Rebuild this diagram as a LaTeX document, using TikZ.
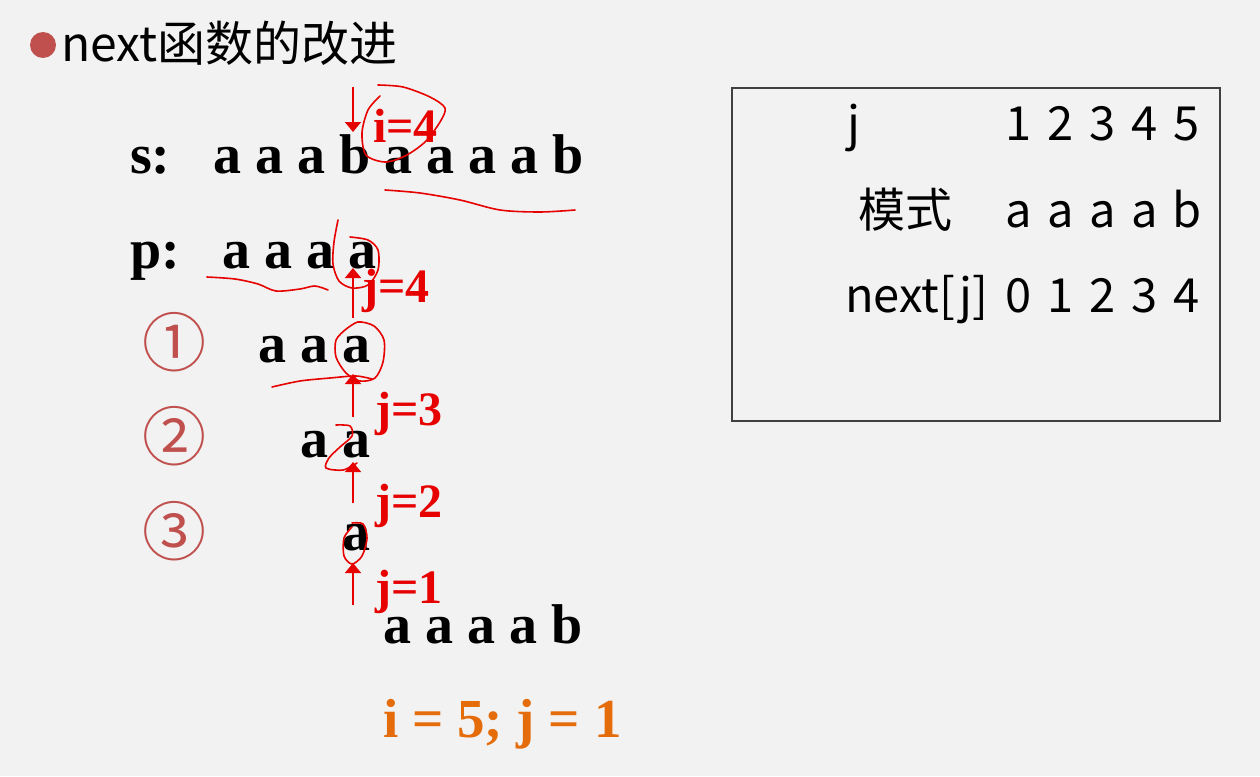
\documentclass[tikz,border=0pt]{standalone}
\usepackage{fontspec}
\setmainfont{Liberation Serif}
\newfontfamily\cjkfont{Noto Sans CJK SC}
\usepackage{xcolor}
\usetikzlibrary{arrows.meta,positioning}

\definecolor{bggray}{HTML}{F2F2F2}
\definecolor{inkred}{HTML}{E60000}
\definecolor{numred}{HTML}{C0504D}
\definecolor{resorange}{HTML}{E46C0A}

\begin{document}
\begin{tikzpicture}[x=1pt, y=-1pt,
    letters/.style={anchor=base west, inner sep=0pt, font=\fontsize{56}{60}\selectfont\bfseries},
    redlabel/.style={anchor=base west, inner sep=0pt, text=inkred, font=\fontsize{48}{50}\selectfont\bfseries},
    circnum/.style={anchor=center, inner sep=0pt, text=numred, font=\cjkfont\fontsize{64}{64}\selectfont},
    cell/.style={anchor=base, inner sep=0pt, font=\cjkfont\fontsize{47}{50}\selectfont},
    rowlabel/.style={anchor=base west, inner sep=0pt, font=\cjkfont\fontsize{47}{50}\selectfont},
    tablebox/.style={rectangle, draw=black!75, line width=1.5pt, minimum width=488pt, minimum height=333pt, inner sep=0pt},
    pointer/.style={draw=inkred, line width=1.6pt, -{Triangle[width=16pt,length=10pt]}},
    ink/.style={draw=inkred, line width=1.6pt, line cap=round, line join=round}
]
\fill[bggray] (0,0) rectangle (1260,776);
\useasboundingbox (0,0) rectangle (1260,776);

% Title
\fill[numred] (43,45) circle (13);
\node[anchor=base west, inner sep=0pt, font=\cjkfont\fontsize{48}{50}\selectfont] (title) at (61,62) {next函数的改进};

% Main string and pattern
\node[letters] (s) at (130,173) {s:};
\node[letters] (srow) at (213,173) {a a a b a a a a b};
\node[letters] (p) at (130,268) {p:};
\node[letters] (prow) at (222,268) {a a a a};

% Steps
\node[circnum] (c1) at (174,342) {①};
\node[letters] (row1) at (258,362) {a a a};
\node[circnum] (c2) at (174,436) {②};
\node[letters] (row2) at (300,457) {a a};
\node[circnum] (c3) at (174,531) {③};
\node[letters] (row3) at (342,550) {a};
\node[letters] (shifted) at (383,643) {a a a a b};
\node[letters, text=resorange, font=\fontsize{55}{60}\selectfont\bfseries] (result) at (383,737) {i = 5; j = 1};

% Red labels
\node[redlabel] (i4) at (373,142) {i=4};
\node[redlabel] (j4) at (362,302) {j=4};
\node[redlabel] (j3) at (375,425) {j=3};
\node[redlabel] (j2) at (375,517) {j=2};
\node[redlabel] (j1) at (375,603) {j=1};

% Pointers
\coordinate (itail) at (353,87);
\coordinate (itip) at (353,132);
\coordinate (j4tail) at (353,318);
\coordinate (j4tip) at (353,268);
\coordinate (j3tail) at (353,417);
\coordinate (j3tip) at (353,374);
\coordinate (j2tail) at (353,503);
\coordinate (j2tip) at (353,462);
\coordinate (j1tail) at (353,605);
\coordinate (j1tip) at (353,563);
\draw[pointer] (itail) -- (itip);
\draw[pointer] (j4tail) -- (j4tip);
\draw[pointer] (j3tail) -- (j3tip);
\draw[pointer] (j2tail) -- (j2tip);
\draw[pointer] (j1tail) -- (j1tip);

% Handwritten marks
\draw[ink] plot[smooth] coordinates {(378,85) (403,87) (430,97) (445,108) (440,122) (425,142) (405,156) (385,162) (366,155) (362,133) (368,110) (380,96)};
\draw[ink] plot[smooth] coordinates {(385,190) (420,193) (460,200) (500,210) (540,212) (575,210)};
\draw[ink] plot[smooth] coordinates {(207,277) (235,279) (258,284) (276,291) (300,289) (315,286) (328,290)};
\draw[ink] plot[smooth] coordinates {(338,220) (334,242) (333,264) (339,281) (352,288) (368,285) (378,270) (378,250) (368,240) (350,237)};
\draw[ink] plot[smooth] coordinates {(272,387) (300,381) (330,378) (356,376) (372,379)};
\draw[ink] plot[smooth] coordinates {(345,330) (358,322) (374,326) (384,340) (383,362) (375,378) (360,381) (346,373) (336,357) (336,340) (345,330)};
\draw[ink] plot[smooth] coordinates {(336,425) (350,426) (352,436) (340,447) (329,458) (326,468) (343,470) (357,463)};
\draw[ink] plot[smooth] coordinates {(352,523) (363,524) (367,538) (362,556) (352,564) (344,556) (344,538) (352,527)};

% Table
\node[tablebox] (table) at (976,254.5) {};
\node[rowlabel] (jlabel) at (847,140) {j};
\node[rowlabel] (patlabel) at (858,227) {模式};
\node[rowlabel] (nextlabel) at (845,312) {next[j]};
\foreach \v [count=\k] in {1,2,3,4,5}
    \node[cell] (jval\k) at (977+42*\k,140) {\v};
\foreach \v [count=\k] in {a,a,a,a,b}
    \node[cell] (pval\k) at (977+42*\k,227) {\v};
\foreach \v [count=\k] in {0,1,2,3,4}
    \node[cell] (nval\k) at (977+42*\k,312) {\v};

\end{tikzpicture}
\end{document}
